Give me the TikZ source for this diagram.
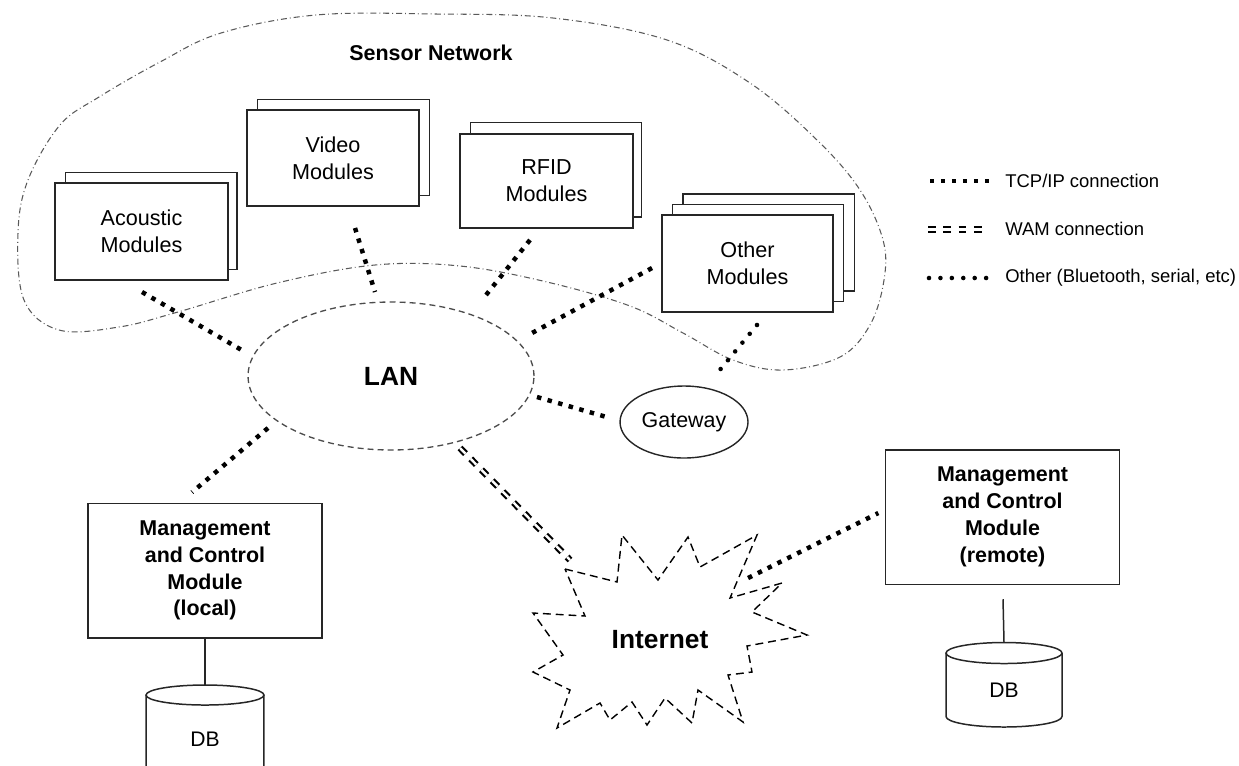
\documentclass[tikz,border=0pt]{standalone}
\usepackage{fontspec}
\setmainfont{Liberation Sans}
\usetikzlibrary{calc,backgrounds,shapes.geometric}
\begin{document}
\begin{tikzpicture}[x=0.02cm,y=-0.02cm,
  box/.style={draw=black!85,line width=0.85pt,fill=white,inner sep=0pt,outer sep=0pt,align=center},
  modbox/.style={box,font=\fontsize{12.3}{15.3}\selectfont},
  mgmt/.style={box,font=\bfseries\fontsize{12.2}{15.3}\selectfont,minimum width=4.69cm,minimum height=2.69cm},
  backbox/.style={draw=black!85,line width=0.85pt,fill=white},
  tcp/.style={line width=2.55pt,dash pattern=on 2.55pt off 3.7pt},
  wam/.style={line width=1.2pt,double distance=1.4pt,dash pattern=on 4.5pt off 4.2pt},
  oth/.style={line width=2.6pt,line cap=round,dash pattern=on 0pt off 6.5pt},
  lanline/.style={draw=black!70,line width=0.75pt,dash pattern=on 3.4pt off 2.3pt},
  senseline/.style={draw=black!65,line width=0.6pt,dash pattern=on 3.4pt off 1.7pt on 0.5pt off 1.7pt},
  inetline/.style={draw=black,line width=0.8pt,dash pattern=on 4.5pt off 2.8pt},
  dbline/.style={draw=black!85,line width=0.85pt},
  legtext/.style={anchor=west,inner sep=0pt,font=\fontsize{10.5}{12}\selectfont}
]
\useasboundingbox (0,0) rectangle (1239,765);
\clip (0,0) rectangle (1239,765);

% sensor network outline
\draw[senseline] plot[smooth cycle,tension=0.6] coordinates {
 (316,15) (435,14) (553,18) (667,40) (750,83) (817,140) (860,190) (883,240)
 (884,280) (870,325) (840,357) (783,370) (733,360) (683,333) (630,306)
 (547,282) (460,266) (375,265) (277,283) (178,312) (119,327) (59,330)
 (24,300) (18,233) (28,180) (60,125) (99,97) (160,62) (221,33)};
\node[font=\bfseries\fontsize{12.2}{14}\selectfont] (title) at (431,53) {Sensor Network};

% module boxes
\node[modbox,minimum width=3.46cm,minimum height=1.94cm] (acoustic) at (141.5,231.5) {Acoustic\\Modules};
\node[modbox,minimum width=3.44cm,minimum height=1.92cm] (video) at (333,158) {Video\\Modules};
\node[modbox,minimum width=3.46cm,minimum height=1.88cm] (rfid) at (546.5,181) {RFID\\Modules};
\node[modbox,minimum width=3.42cm,minimum height=1.94cm] (other) at (747.5,263.5) {Other\\Modules};

\begin{scope}[on background layer]
\draw[backbox] ($(acoustic.south west)+(10.5,-10.5)$) rectangle ($(acoustic.north east)+(9,-10.5)$);
\draw[backbox] ($(video.south west)+(10.5,-10.5)$) rectangle ($(video.north east)+(10.5,-10.5)$);
\draw[backbox] ($(rfid.south west)+(10.5,-11)$) rectangle ($(rfid.north east)+(8.5,-11.5)$);
\draw[backbox] ($(other.south west)+(21,-21)$) rectangle ($(other.north east)+(21.5,-21)$);
\draw[backbox] ($(other.south west)+(10.5,-10.5)$) rectangle ($(other.north east)+(10.5,-10.5)$);
\end{scope}

% LAN and gateway
\node[ellipse,lanline,minimum width=5.72cm,minimum height=2.96cm,inner sep=0pt,outer sep=0pt,
      font=\bfseries\fontsize{15}{18}\selectfont] (lan) at (391,376) {LAN};
\node[ellipse,draw=black!85,line width=0.8pt,minimum width=2.56cm,minimum height=1.44cm,inner sep=0pt,outer sep=0pt,
      font=\fontsize{12.2}{14}\selectfont] (gw) at (684,422) {Gateway};

% management modules
\node[mgmt] (local) at (205,570.5) {Management\\and Control\\Module\\(local)};
\node[mgmt] (remote) at (1002.5,517) {Management\\and Control\\Module\\(remote)};

% internet
\draw[inetline] (565,569) -- (617,582) -- (622,535) -- (658,580) -- (688,537) -- (700,567)
  -- (757,535) -- (730,598) -- (782,583) -- (752,612) -- (807,635) -- (747,646)
  -- (752,672) -- (728,675) -- (743,722) -- (698,690) -- (692,723) -- (665,698)
  -- (647,725) -- (632,702) -- (610,720) -- (600,703) -- (557,728) -- (570,690)
  -- (533,672) -- (563,655) -- (533,613) -- (585,616) -- cycle;
\node[font=\bfseries\fontsize{15}{18}\selectfont] (inet) at (660,640) {Internet};

% databases
\node[inner sep=0pt,outer sep=0pt,minimum width=2.36cm,minimum height=1.76cm,
      font=\fontsize{12}{14}\selectfont] (db1) at (205,739) {DB};
\node[inner sep=0pt,outer sep=0pt,minimum width=2.32cm,minimum height=1.48cm,
      font=\fontsize{12}{14}\selectfont] (db2) at (1004,690) {DB};
\draw[dbline] (db1.north west) -- ($(db1.south west)+(0,-10)$)
  .. controls ($(db1.south west)+(0,-4.5)$) and ($(db1.south)+(-32.6,0)$) .. (db1.south)
  .. controls ($(db1.south)+(32.6,0)$) and ($(db1.south east)+(0,-4.5)$) .. ($(db1.south east)+(0,-10)$)
  -- (db1.north east);
\draw[dbline] (db1.north) ellipse [x radius=1.18cm, y radius=0.2cm];
\draw[dbline] (db2.north west) -- ($(db2.south west)+(0,-10.5)$)
  .. controls ($(db2.south west)+(0,-4.7)$) and ($(db2.south)+(-32,0)$) .. (db2.south)
  .. controls ($(db2.south)+(32,0)$) and ($(db2.south east)+(0,-4.7)$) .. ($(db2.south east)+(0,-10.5)$)
  -- (db2.north east);
\draw[dbline] (db2.north) ellipse [x radius=1.16cm, y radius=0.21cm];
\draw[dbline] (local.south) -- ($(db1.north)+(0,-10)$);
\draw[dbline] ($(remote.south)+(0.5,15)$) -- ($(db2.north)+(0,-10.5)$);

% connectors
\draw[tcp] ($(acoustic.south)+(0.5,12)$) -- ($(lan.west)+(-3,-24)$);
\draw[tcp] ($(video.south)+(22,22)$) -- ($(lan.north)+(-16,-10)$);
\draw[tcp] ($(rfid.south)+(-16.5,12)$) -- ($(lan.north)+(91,-2)$);
\draw[tcp] ($(other.west)+(-10,4.5)$) -- ($(lan.east)+(-2,-43)$);
\draw[tcp] ($(lan.east)+(3,21)$) -- ($(gw.west)+(-10,-4)$);
\draw[tcp] ($(lan.south)+(-123,-22)$) -- ($(local.north)+(-13,-11)$);
\draw[tcp] ($(inet)+(88,-62)$) -- ($(remote.west)+(-7,-4)$);
\draw[oth] ($(other.south)+(9.5,13)$) -- ($(gw.north)+(30,-9)$);
\draw[wam] ($(lan.south)+(69,-2)$) -- ($(inet)+(-90,-80)$);

% legend
\node[legtext] (leg1) at (1005,181) {TCP/IP connection};
\node[legtext] (leg2) at (1005,229) {WAM connection};
\node[legtext] (leg3) at (1005,278) {Other (Bluetooth, serial, etc)};
\coordinate (l1) at (930,181);
\coordinate (l2) at (928,229.5);
\coordinate (l3) at (929,278);
\draw[tcp] (l1) -- ($(leg1.west)+(-10,0)$);
\draw[wam] (l2) -- ($(leg2.west)+(-20,0.5)$);
\draw[oth] (l3) -- ($(leg3.west)+(-14,0)$);
\end{tikzpicture}
\end{document}
